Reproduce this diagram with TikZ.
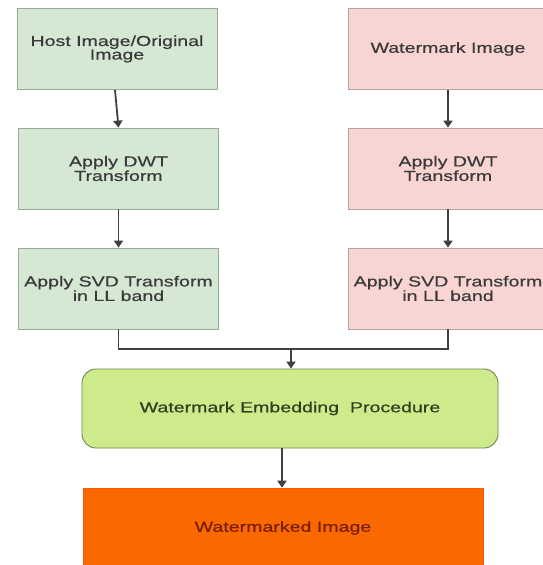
\documentclass[tikz,border=0pt]{standalone}
\usepackage{fontspec}
\newfontfamily\diafont[FakeStretch=1.35,FakeBold=0.6]{Liberation Sans}
\usetikzlibrary{arrows.meta}
\definecolor{gfill}{HTML}{D5E8D4}
\definecolor{gline}{HTML}{9AA896}
\definecolor{pfill}{HTML}{F8D5D2}
\definecolor{pline}{HTML}{B8A09E}
\definecolor{efill}{HTML}{CDEB8B}
\definecolor{eline}{HTML}{6F8457}
\definecolor{ofill}{HTML}{FA6800}
\definecolor{otext}{HTML}{7A1E00}
\definecolor{etext}{HTML}{2F3F22}
\definecolor{btext}{HTML}{3A3A3A}
\definecolor{conn}{HTML}{404040}
\tikzset{
  box/.style={draw, line width=0.8pt, minimum height=81pt, align=center,
    font=\diafont\fontsize{14.5}{13.5}\selectfont, text=btext, inner sep=0pt},
  gbox/.style={box, fill=gfill, draw=gline, minimum width=200pt},
  pbox/.style={box, fill=pfill, draw=pline, minimum width=200pt},
  arr/.style={draw=conn, line width=1.8pt, -{Triangle[width=9pt,length=7pt]}},
  conline/.style={draw=conn, line width=1.8pt}
}
\begin{document}
\begin{tikzpicture}[x=1pt,y=-1pt]
\useasboundingbox (0,0) rectangle (543,565);
\clip (0,0) rectangle (543,565);
\fill[white] (0,0) rectangle (543,565);
% left column
\node[gbox] (h1) at (117,49) {Host Image/Original\\Image};
\node[gbox] (h2) at (118.5,168.5) {Apply DWT\\Transform};
\node[gbox] (h3) at (118.5,288.5) {Apply SVD Transform\\in LL band};
% right column
\node[pbox] (w1) at (448,49) {Watermark Image};
\node[pbox] (w2) at (448,168.5) {Apply DWT\\Transform};
\node[pbox] (w3) at (448,288.5) {Apply SVD Transform\\in LL band};
% embedding
\node[draw=eline, fill=efill, line width=0.9pt, rounded corners=14pt,
  minimum width=416pt, minimum height=79pt, text=etext,
  font=\diafont\fontsize{14.5}{14.5}\selectfont] (emb) at (290,408.5)
  {Watermark Embedding\ \ Procedure};
% output
\node[fill=ofill, draw=ofill!85!red, line width=0.6pt, minimum width=400pt,
  minimum height=80pt, text=otext,
  font=\diafont\fontsize{14.5}{14.5}\selectfont] (out) at (283,528)
  {Watermarked Image};
% connectors
\draw[arr] ([xshift=-2pt]h1.south) -- (h2.north);
\draw[arr] (h2.south) -- (h3.north);
\draw[arr] (w1.south) -- (w2.north);
\draw[arr] (w2.south) -- (w3.north);
\coordinate (j) at (291,349);
\draw[conline] (h3.south) |- (j) -| (w3.south);
\draw[arr] (j) -- (j |- emb.north);
\draw[arr] ([xshift=-8pt]emb.south) -- ([xshift=-8pt]emb.south |- out.north);
\end{tikzpicture}
\end{document}
